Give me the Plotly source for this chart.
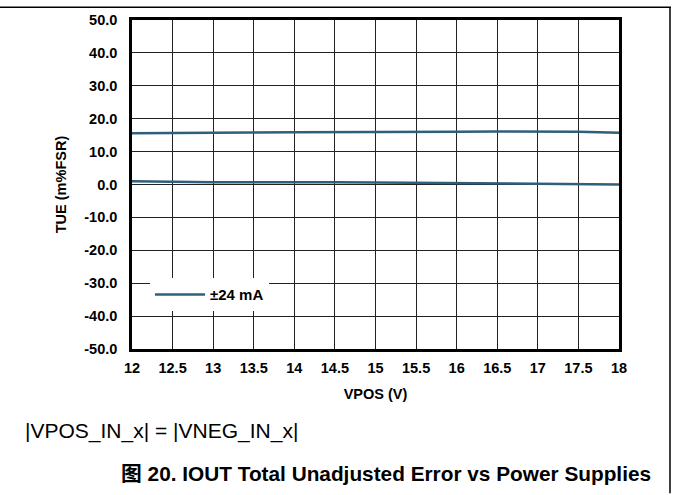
import plotly.graph_objects as go

vpos = [12, 12.5, 13, 13.5, 14, 14.5, 15, 15.5, 16, 16.5, 17, 17.5, 18]
tue_upper = [15.6, 15.6, 15.7, 15.8, 15.9, 15.9, 15.8, 15.9, 16.0, 16.1, 16.1, 16.0, 15.7]
tue_lower = [1.0, 0.8, 0.7, 0.7, 0.8, 0.7, 0.6, 0.5, 0.4, 0.2, 0.1, 0.1, 0.0]
x_ticks = [12, 12.5, 13, 13.5, 14, 14.5, 15, 15.5, 16, 16.5, 17, 17.5, 18]
y_ticks = [50, 40, 30, 20, 10, 0, -10, -20, -30, -40, -50]

color = "#2F5F7A"
FONT = "Liberation Sans, Arial, sans-serif"
TS = 14.5

fig = go.Figure()
fig.add_trace(go.Scatter(x=vpos, y=tue_upper, mode="lines", name="±24 mA",
                         line=dict(color=color, width=2.5), legendgroup="a"))
fig.add_trace(go.Scatter(x=vpos, y=tue_lower, mode="lines", name="±24 mA",
                         line=dict(color=color, width=2.5), legendgroup="a", showlegend=False))

L, R, T, B = 132, 619, 16, 349
W, H = 673, 495
pw, ph = R - L, B - T

def px(x):
    return (x - L) / pw

def py(y):
    return (B - y) / ph

fig.update_layout(
    width=W, height=H,
    margin=dict(l=L, r=W - R, t=T, b=H - B, pad=0),
    paper_bgcolor="white", plot_bgcolor="white",
    font=dict(family=FONT, size=TS, color="black"),
    showlegend=True,
    legend=dict(x=px(150), y=py(294), xanchor="left", yanchor="middle",
                bgcolor="white", borderwidth=0,
                font=dict(family=FONT, size=15, color="black", weight="bold"),
                itemwidth=50),
    xaxis=dict(range=[12, 18], tickvals=x_ticks, ticktext=[f"{v:g}" for v in x_ticks],
               showgrid=True, gridcolor="#222", gridwidth=1,
               showline=True, linecolor="black", linewidth=2.5, mirror=True,
               zeroline=False, ticks="outside", ticklen=4, tickcolor="rgba(0,0,0,0)",
               tickfont=dict(family=FONT, size=TS, color="black", weight="bold"),
               title=dict(text="VPOS (V)", standoff=14,
                          font=dict(family=FONT, size=TS, color="black", weight="bold"))),
    yaxis=dict(range=[-50, 50], tickvals=y_ticks, ticktext=[f"{v:.1f}" for v in y_ticks],
               showgrid=True, gridcolor="#222", gridwidth=1,
               showline=True, linecolor="black", linewidth=2.5, mirror=True,
               zeroline=False, ticks="outside", ticklen=9, tickcolor="rgba(0,0,0,0)",
               tickfont=dict(family=FONT, size=TS, color="black", weight="bold"),
               title=dict(text="TUE (m%FSR)", standoff=15,
                          font=dict(family=FONT, size=TS, color="black", weight="bold"))),
)

# outer frame lines
fig.add_shape(type="line", xref="paper", yref="paper",
              x0=px(0), x1=px(671), y0=py(3), y1=py(3),
              line=dict(color="black", width=1.5))
fig.add_shape(type="line", xref="paper", yref="paper",
              x0=px(670), x1=px(670), y0=py(3), y1=py(495),
              line=dict(color="black", width=1.5))

fig.add_annotation(xref="paper", yref="paper", x=px(23), y=py(432),
                   xanchor="left", yanchor="middle", showarrow=False,
                   text="|VPOS_IN_x| = |VNEG_IN_x|",
                   font=dict(family=FONT, size=21, color="black"))
fig.add_annotation(xref="paper", yref="paper", x=px(386), y=py(475),
                   xanchor="center", yanchor="middle", showarrow=False,
                   text="图 20. IOUT Total Unadjusted Error vs Power Supplies",
                   font=dict(family="Liberation Sans, Noto Sans CJK SC, sans-serif", size=20.8,
                             color="black", weight="bold"))

fig.write_html("out.html", config={"displayModeBar": False},
               post_script="document.body.style.margin='0';")
